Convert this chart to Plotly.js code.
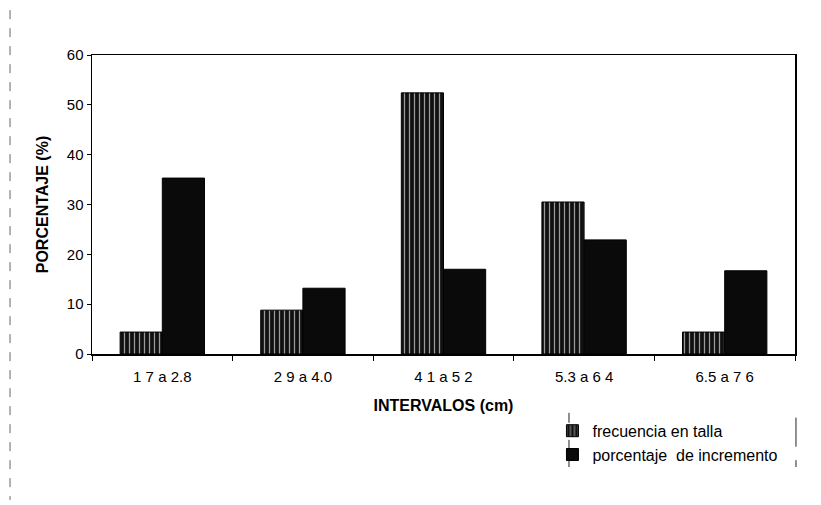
<!DOCTYPE html>
<html>
<head>
<meta charset="utf-8">
<script src="https://cdn.plot.ly/plotly-3.0.1.min.js"></script>
<style>html,body{margin:0;padding:0;background:#fff;}</style>
</head>
<body>
<div id="chart" style="width:821px;height:505px;"></div>
<script>
const categories = ["1 7 a 2.8", "2 9 a 4.0", "4 1 a 5 2", "5.3 a 6 4", "6.5 a 7 6"];
const frecuenciaTalla = [4.4, 8.8, 52.4, 30.5, 4.4];
const porcentajeIncremento = [35.3, 13.2, 17.0, 22.9, 16.7];

const traces = [
  {
    type: "bar",
    name: "frecuencia en talla",
    x: categories,
    y: frecuenciaTalla,
    marker: {
      color: "#111",
      line: {color: "#000", width: 1},
      pattern: {shape: "|", bgcolor: "#111", fgcolor: "#9a9a9a", size: 5, solidity: 0.25}
    }
  },
  {
    type: "bar",
    name: "porcentaje  de incremento",
    x: categories,
    y: porcentajeIncremento,
    marker: {color: "#0a0a0a", line: {color: "#000", width: 1}}
  }
];

const seg = (x0, y0, x1, y1, extra) => Object.assign({
  type: "line", xref: "paper", yref: "paper", x0, y0, x1, y1,
  line: {color: "#222", width: 1}
}, extra || {});

const layout = {
  width: 821,
  height: 505,
  margin: {l: 92, r: 26, t: 55, b: 151},
  paper_bgcolor: "#fff",
  plot_bgcolor: "#fff",
  barmode: "group",
  bargap: 0.4,
  bargroupgap: 0,
  font: {family: "Liberation Sans, Arial, sans-serif", color: "#000", size: 15},
  showlegend: true,
  legend: {
    x: 0.655, y: -0.2, xanchor: "left", yanchor: "top",
    borderwidth: 0, bgcolor: "rgba(0,0,0,0)",
    font: {size: 16, color: "#000"}, tracegroupgap: 0, itemwidth: 30
  },
  shapes: [
    seg(0.6785, -0.197, 0.6785, -0.23),
    seg(0.6785, -0.287, 0.6785, -0.378),
    seg(1.0014, -0.213, 1.0014, -0.31),
    seg(1.0014, -0.355, 1.0014, -0.378),
    seg(-0.1166, 1.15, -0.1166, -0.488, {line: {color: "#666", width: 1, dash: "dash"}})
  ],
  xaxis: {
    type: "category",
    showline: true, linecolor: "#000", linewidth: 1.5, mirror: true,
    ticks: "outside", tickson: "boundaries", ticklen: 5, tickcolor: "#000",
    showgrid: false, zeroline: false,
    tickfont: {size: 15},
    ticklabelstandoff: 8,
    title: {text: "<b>INTERVALOS (cm)</b>", font: {size: 16}, standoff: 16}
  },
  yaxis: {
    range: [0, 60], dtick: 10,
    showline: true, linecolor: "#000", linewidth: 1.5, mirror: true,
    ticks: "outside", ticklen: 4, tickcolor: "#000",
    showgrid: false, zeroline: false,
    tickfont: {size: 15},
    title: {text: "<b>PORCENTAJE (%)</b>", font: {size: 16}, standoff: 14}
  }
};

Plotly.newPlot("chart", traces, layout, {staticPlot: true, displayModeBar: false});
</script>
</body>
</html>
